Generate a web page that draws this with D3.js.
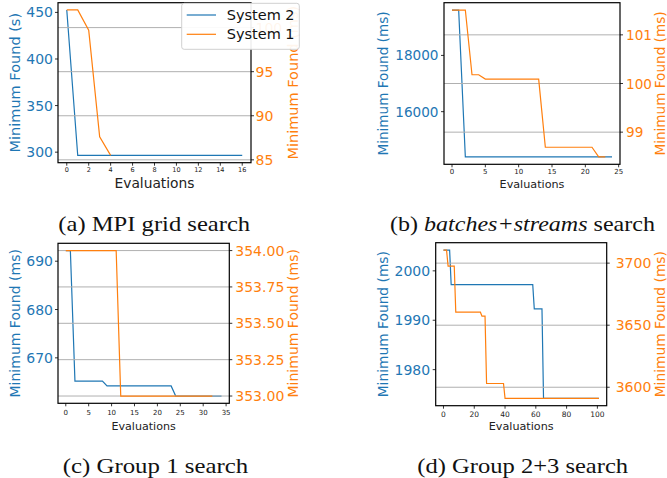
<!DOCTYPE html>
<html>
<head>
<meta charset="utf-8">
<script src="https://cdn.jsdelivr.net/npm/d3@7"></script>
<style>
  body { margin: 0; background: #fff; }
  svg { display: block; }
  text { font-family: "DejaVu Sans", sans-serif; }
  .cap { font-family: "Liberation Serif", "Times New Roman", serif; }
</style>
</head>
<body>
<div id="chart"></div>
<script>
// --- data (value per evaluation, index = evaluation number) ---
const mpiSys2 = [452.6, 296.5, 296.5, 296.5, 296.5, 296.5, 296.5, 296.5, 296.5,
  296.5, 296.5, 296.5, 296.5, 296.5, 296.5, 296.5, 296.5];
const mpiSys1 = [102.0, 102.0, 99.7, 87.6, 85.5];

const bsSys2 = [19613, 19613, 14390, 14390, 14390, 14390, 14390, 14390, 14390, 14390,
  14390, 14390, 14390, 14390, 14390, 14390, 14390, 14390, 14390, 14390,
  14390, 14390, 14390, 14390, 14390];
const bsSys1 = [101.51, 101.51, 101.51, 100.18, 100.18, 100.09, 100.09, 100.09, 100.09, 100.09,
  100.09, 100.09, 100.09, 100.09, 98.69, 98.69, 98.69, 98.69, 98.69, 98.69,
  98.69, 98.69, 98.49, 98.49];

const g1Sys2 = [692.2, 692.2, 665.2, 665.2, 665.2, 665.2, 665.2, 665.2, 665.2, 664.2,
  664.2, 664.2, 664.2, 664.2, 664.2, 664.2, 664.2, 664.2, 664.2, 664.2,
  664.2, 664.2, 664.2, 664.2, 662.1, 662.1, 662.1, 662.1, 662.1, 662.1,
  662.1, 662.1, 662.1, 662.1, 662.1];
const g1Sys1 = [354, 354, 354, 354, 354, 354, 354, 354, 354, 354,
  354, 354, 353, 353, 353, 353, 353, 353, 353, 353,
  353, 353, 353, 353, 353, 353, 353, 353, 353, 353,
  353, 353, 353];

const g23Sys2 = [2004.2, 2004.2, 2004.2, 2004.2, 2004.2, 1997.2, 1997.2, 1997.2, 1997.2, 1997.2,
  1997.2, 1997.2, 1997.2, 1997.2, 1997.2, 1997.2, 1997.2, 1997.2, 1997.2, 1997.2,
  1997.2, 1997.2, 1997.2, 1997.2, 1997.2, 1997.2, 1997.2, 1997.2, 1997.2, 1997.2,
  1997.2, 1997.2, 1997.2, 1997.2, 1997.2, 1997.2, 1997.2, 1997.2, 1997.2, 1997.2,
  1997.2, 1997.2, 1997.2, 1997.2, 1997.2, 1997.2, 1997.2, 1997.2, 1997.2, 1997.2,
  1997.2, 1997.2, 1997.2, 1997.2, 1997.2, 1997.2, 1997.2, 1997.2, 1997.2, 1992.3,
  1992.3, 1992.3, 1992.3, 1992.3, 1992.3, 1974.2, 1974.2, 1974.2, 1974.2, 1974.2,
  1974.2, 1974.2, 1974.2, 1974.2, 1974.2, 1974.2, 1974.2, 1974.2, 1974.2, 1974.2,
  1974.2, 1974.2, 1974.2, 1974.2, 1974.2, 1974.2, 1974.2, 1974.2, 1974.2, 1974.2,
  1974.2, 1974.2, 1974.2, 1974.2, 1974.2, 1974.2, 1974.2, 1974.2, 1974.2, 1974.2,
  1974.2, 1974.2];
const g23Sys1 = [3710.5, 3710.5, 3710.5, 3697.6, 3697.6, 3697.6, 3697.6, 3697.6, 3660.5, 3660.5,
  3660.5, 3660.5, 3660.5, 3660.5, 3660.5, 3660.5, 3660.5, 3660.5, 3660.5, 3660.5,
  3660.5, 3660.5, 3660.5, 3660.5, 3660.5, 3657.3, 3657.3, 3657.3, 3603.0, 3603.0,
  3603.0, 3603.0, 3603.0, 3603.0, 3603.0, 3603.0, 3603.0, 3603.0, 3603.0, 3603.0,
  3591.1, 3591.1, 3591.1, 3591.1, 3591.1, 3591.1, 3591.1, 3591.1, 3591.1, 3591.1,
  3591.1, 3591.1, 3591.1, 3591.1, 3591.1, 3591.1, 3591.1, 3591.1, 3591.1, 3591.1,
  3591.1, 3591.1, 3591.1, 3591.1, 3591.1, 3591.1, 3591.1, 3591.1, 3591.1, 3591.1,
  3591.1, 3591.1, 3591.1, 3591.1, 3591.1, 3591.1, 3591.1, 3591.1, 3591.1, 3591.1,
  3591.1, 3591.1, 3591.1, 3591.1, 3591.1, 3591.1, 3591.1, 3591.1, 3591.1, 3591.1,
  3591.1, 3591.1, 3591.1, 3591.1, 3591.1, 3591.1, 3591.1, 3591.1, 3591.1, 3591.1,
  3591.1, 3591.1];

// --- tick labels ---
const mpiXTicks = [0, 2, 4, 6, 8, 10, 12, 14, 16];
const mpiLTicks = [300, 350, 400, 450];
const mpiRTicks = [85, 90, 95, 100];
const bsXTicks = [0, 5, 10, 15, 20, 25];
const bsLTicks = [16000, 18000];
const bsRTicks = [99, 100, 101];
const g1XTicks = [0, 5, 10, 15, 20, 25, 30, 35];
const g1LTicks = [670, 680, 690];
const g1RTicks = [353.00, 353.25, 353.50, 353.75, 354.00];
const g23XTicks = [0, 20, 40, 60, 80, 100];
const g23LTicks = [1980, 1990, 2000];
const g23RTicks = [3600, 3650, 3700];

const legendNames = ['System 2', 'System 1'];
const C2 = '#1f77b4', C1 = '#ff7f0e';

const W = 667, H = 478;
const svg = d3.select('#chart').append('svg')
  .attr('width', W).attr('height', H);
svg.append('rect').attr('width', W).attr('height', H).attr('fill', '#fff');

// matplotlib-like 5% padding around the data range
function padded(ext) {
  const m = (ext[1] - ext[0]) * 0.05;
  return [ext[0] - m, ext[1] + m];
}

function drawPanel(p) {
  const g = svg.append('g');
  const nX = Math.max(p.s2.length, p.s1.length) - 1;
  const x = d3.scaleLinear().domain(padded([0, nX])).range([p.x0, p.x1]);
  const yL = d3.scaleLinear().domain(padded(d3.extent(p.s2))).range([p.y1, p.y0]);
  const yR = d3.scaleLinear().domain(padded(d3.extent(p.s1))).range([p.y1, p.y0]);

  // blue series (left axis)
  g.append('path').datum(p.s2)
    .attr('fill', 'none').attr('stroke', C2).attr('stroke-width', 1.2)
    .attr('d', d3.line().x((d, i) => x(i)).y(d => yL(d)));

  // grid from right axis
  g.selectAll('line.grid').data(p.rT).join('line')
    .attr('class', 'grid')
    .attr('x1', p.x0).attr('x2', p.x1)
    .attr('y1', d => yR(d)).attr('y2', d => yR(d))
    .attr('stroke', '#b0b0b0').attr('stroke-width', 1);

  // orange series (right axis)
  g.append('path').datum(p.s1)
    .attr('fill', 'none').attr('stroke', C1).attr('stroke-width', 1.2)
    .attr('d', d3.line().x((d, i) => x(i)).y(d => yR(d)));

  // frame
  g.append('rect')
    .attr('x', p.x0).attr('y', p.y0)
    .attr('width', p.x1 - p.x0).attr('height', p.y1 - p.y0)
    .attr('fill', 'none').attr('stroke', '#000').attr('stroke-width', 1.2);

  const tk = 3;
  // x ticks
  g.selectAll('line.xt').data(p.xT).join('line')
    .attr('x1', d => x(d)).attr('x2', d => x(d))
    .attr('y1', p.y1).attr('y2', p.y1 + tk)
    .attr('stroke', '#000').attr('stroke-width', 0.8);
  g.selectAll('text.xt').data(p.xT).join('text')
    .attr('x', d => x(d)).attr('y', p.y1 + p.xTickDy)
    .attr('text-anchor', 'middle').attr('dominant-baseline', 'central')
    .attr('font-size', p.xTickFs).attr('fill', '#222')
    .text(d => d);
  g.append('text')
    .attr('x', (p.x0 + p.x1) / 2).attr('y', p.xLabY)
    .attr('text-anchor', 'middle').attr('dominant-baseline', 'central')
    .attr('font-size', p.xLabFs).attr('fill', '#222')
    .text('Evaluations');

  // left ticks
  g.selectAll('line.lt').data(p.lT).join('line')
    .attr('x1', p.x0 - tk).attr('x2', p.x0)
    .attr('y1', d => yL(d)).attr('y2', d => yL(d))
    .attr('stroke', '#000').attr('stroke-width', 0.8);
  g.selectAll('text.lt').data(p.lT).join('text')
    .attr('x', p.x0 - p.gapL).attr('y', d => yL(d))
    .attr('text-anchor', 'end').attr('dominant-baseline', 'central')
    .attr('font-size', p.yFs).attr('fill', C2)
    .text(d => d);

  // right ticks
  g.selectAll('line.rt').data(p.rT).join('line')
    .attr('x1', p.x1).attr('x2', p.x1 + tk)
    .attr('y1', d => yR(d)).attr('y2', d => yR(d))
    .attr('stroke', '#000').attr('stroke-width', 0.8);
  g.selectAll('text.rt').data(p.rT).join('text')
    .attr('x', p.x1 + p.gapR).attr('y', d => yR(d))
    .attr('text-anchor', 'start').attr('dominant-baseline', 'central')
    .attr('font-size', p.yFs).attr('fill', C1)
    .text(d => p.rFmt(d));

  // axis titles
  const yc = (p.y0 + p.y1) / 2;
  g.append('text')
    .attr('transform', `translate(${p.labL},${yc}) rotate(-90)`)
    .attr('text-anchor', 'middle').attr('dominant-baseline', 'central')
    .attr('font-size', p.yLabFs).attr('fill', C2)
    .text(p.unitL);
  g.append('text')
    .attr('transform', `translate(${p.labR},${yc}) rotate(-90)`)
    .attr('text-anchor', 'middle').attr('dominant-baseline', 'central')
    .attr('font-size', p.yLabFs).attr('fill', C1)
    .text('Minimum Found (ms)');
}

const intFmt = d3.format('d');

drawPanel({ s2: mpiSys2, s1: mpiSys1, xT: mpiXTicks, lT: mpiLTicks, rT: mpiRTicks,
  x0: 58, x1: 251, y0: 2.7, y1: 162.7, gapL: 5, gapR: 4.5,
  xTickDy: 7.5, xTickFs: 6.5, xLabY: 182.7, xLabFs: 13.8, yFs: 14, yLabFs: 14.5,
  labL: 15, labR: 292.7, unitL: 'Minimum Found (s)', rFmt: intFmt });

drawPanel({ s2: bsSys2, s1: bsSys1, xT: bsXTicks, lT: bsLTicks, rT: bsRTicks,
  x0: 444, x1: 620, y0: 2.7, y1: 164.3, gapL: 5.5, gapR: 6,
  xTickDy: 8, xTickFs: 7, xLabY: 184.3, xLabFs: 11.2, yFs: 13.6, yLabFs: 13.6,
  labL: 383.3, labR: 659.5, unitL: 'Minimum Found (ms)', rFmt: intFmt });

drawPanel({ s2: g1Sys2, s1: g1Sys1, xT: g1XTicks, lT: g1LTicks, rT: g1RTicks,
  x0: 58, x1: 229.3, y0: 243.3, y1: 403.3, gapL: 5, gapR: 6,
  xTickDy: 10, xTickFs: 7, xLabY: 426, xLabFs: 11.1, yFs: 14, yLabFs: 14,
  labL: 15, labR: 292.7, unitL: 'Minimum Found (ms)', rFmt: d3.format('.2f') });

drawPanel({ s2: g23Sys2, s1: g23Sys1, xT: g23XTicks, lT: g23LTicks, rT: g23RTicks,
  x0: 435.7, x1: 606.7, y0: 242.7, y1: 405.7, gapL: 5.5, gapR: 9,
  xTickDy: 8.5, xTickFs: 7.5, xLabY: 426, xLabFs: 11.2, yFs: 14, yLabFs: 13.8,
  labL: 383.3, labR: 659.5, unitL: 'Minimum Found (ms)', rFmt: intFmt });

// legend (panel a) — sits over the right axis labels, as in the original
const leg = svg.append('g');
leg.append('rect')
  .attr('x', 181.7).attr('y', 3.3).attr('width', 117.6).attr('height', 46)
  .attr('rx', 2.5).attr('fill', '#fff').attr('fill-opacity', 0.92)
  .attr('stroke', '#d0d0d0').attr('stroke-width', 1);
leg.selectAll('line').data(legendNames).join('line')
  .attr('x1', 186.7).attr('x2', 216)
  .attr('y1', (d, i) => 15 + i * 19.3).attr('y2', (d, i) => 15 + i * 19.3)
  .attr('stroke', (d, i) => i === 0 ? C2 : C1).attr('stroke-width', 1.2);
leg.selectAll('text').data(legendNames).join('text')
  .attr('x', 226.7).attr('y', (d, i) => 15 + i * 19.3)
  .attr('dominant-baseline', 'central').attr('font-size', 14.5).attr('fill', '#111')
  .text(d => d);

// sub-captions, stretched to the measured widths
const captions = [
  { parts: [['(a) MPI grid search', false]], x0: 58.3, w: 192, base: 231 },
  { parts: [['(b) ', false], ['batches+streams', true], [' search', false]], x0: 390, w: 265, base: 231 },
  { parts: [['(c) Group 1 search', false]], x0: 62.7, w: 185.6, base: 473.3 },
  { parts: [['(d) Group 2+3 search', false]], x0: 417.3, w: 211, base: 473.3 }
];
captions.forEach(c => {
  const t = svg.append('text').attr('class', 'cap')
    .attr('x', 0).attr('y', 0).attr('font-size', 20).attr('fill', '#111');
  c.parts.forEach(([s, it]) => {
    t.append('tspan').attr('font-style', it ? 'italic' : 'normal').text(s);
  });
  const w = t.node().getComputedTextLength();
  t.attr('transform', `translate(${c.x0},${c.base}) scale(${c.w / w},1)`);
});
</script>
</body>
</html>
